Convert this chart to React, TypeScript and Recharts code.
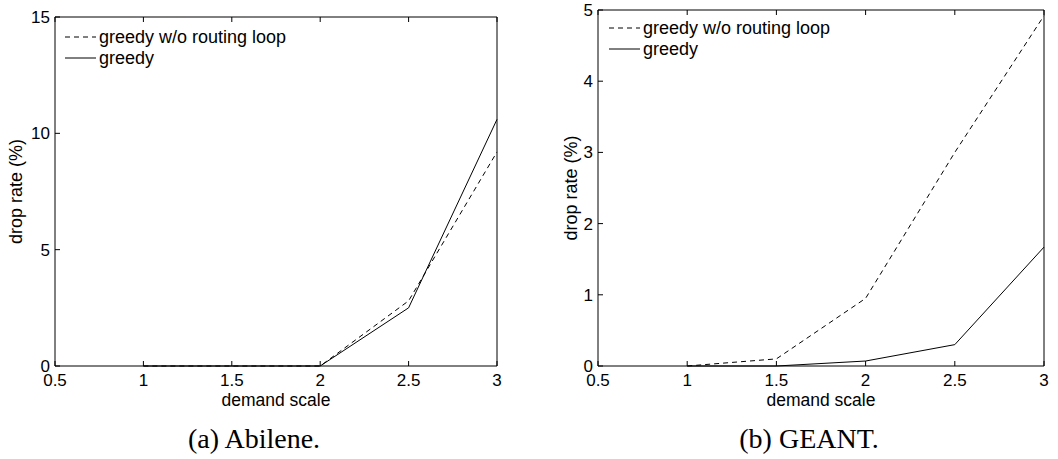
import { LineChart, Line, XAxis, YAxis, Legend } from "recharts";

// demand scale (x) for both panels
const DEMAND = [1, 1.5, 2, 2.5, 3];
const X_TICKS = [0.5, 1, 1.5, 2, 2.5, 3];

// (a) Abilene, drop rate in %
const ABILENE_NO_LOOP = [0, 0, 0, 2.8, 9.2];
const ABILENE_GREEDY = [0, 0, 0, 2.5, 10.6];
const ABILENE_Y_TICKS = [0, 5, 10, 15];

// (b) GEANT, drop rate in %
const GEANT_NO_LOOP = [0, 0.1, 0.95, 3.0, 4.92];
const GEANT_GREEDY = [0, 0, 0.07, 0.3, 1.67];
const GEANT_Y_TICKS = [0, 1, 2, 3, 4, 5];

const SERIES = [
  { key: "noLoop", name: "greedy w/o routing loop", dash: "5 4" },
  { key: "greedy", name: "greedy", dash: undefined },
];

const SANS = "'Liberation Sans', Arial, Helvetica, sans-serif";
const SERIF = "'Liberation Serif', 'Times New Roman', serif";
const TICK = 5;

const W = 529;
const H = 459;

function makeRows(noLoop: number[], greedy: number[]) {
  return DEMAND.map((x, i) => ({ x, noLoop: noLoop[i], greedy: greedy[i] }));
}

const BottomTick = (props: any) => {
  const { x, y, payload } = props;
  return (
    <g>
      <line x1={x} x2={x} y1={y} y2={y - TICK} stroke="#000" />
      <text x={x} y={y + 20} textAnchor="middle" fontSize={17} fontFamily={SANS} fill="#000">
        {payload.value}
      </text>
    </g>
  );
};

const TopTick = (props: any) => {
  const { x, y } = props;
  return <line x1={x} x2={x} y1={y} y2={y + TICK} stroke="#000" />;
};

const LeftTick = (props: any) => {
  const { x, y, payload } = props;
  return (
    <g>
      <line x1={x} x2={x + TICK} y1={y} y2={y} stroke="#000" />
      <text x={x - 5} y={y + 6} textAnchor="end" fontSize={17} fontFamily={SANS} fill="#000">
        {payload.value}
      </text>
    </g>
  );
};

const RightTick = (props: any) => {
  const { x, y } = props;
  return <line x1={x} x2={x - TICK} y1={y} y2={y} stroke="#000" />;
};

const LegendBox = () => (
  <svg width={300} height={50} style={{ display: "block", overflow: "visible" }}>
    {SERIES.map((s, i) => (
      <g key={s.key}>
        <line x1={0} x2={31} y1={8 + i * 21} y2={8 + i * 21} stroke="#000" strokeDasharray={s.dash} />
        <text x={34} y={14 + i * 21} fontSize={18} fontFamily={SANS} fill="#000">
          {s.name}
        </text>
      </g>
    ))}
  </svg>
);

interface PanelProps {
  left: number;
  rows: { x: number; noLoop: number; greedy: number }[];
  yMax: number;
  yTicks: number[];
  marginTop: number;
  marginRight: number;
  yAxisWidth: number;
  yLabelX: number;
  legendLeft: number;
  legendTop: number;
}

function Panel({
  left,
  rows,
  yMax,
  yTicks,
  marginTop,
  marginRight,
  yAxisWidth,
  yLabelX,
  legendLeft,
  legendTop,
}: PanelProps) {
  return (
    <div style={{ position: "absolute", left, top: 0 }}>
      <LineChart
        width={W}
        height={H}
        data={rows}
        margin={{ top: marginTop - 1, right: marginRight - 1, bottom: 92, left: 0 }}
      >
        <XAxis
          dataKey="x"
          type="number"
          domain={[0.5, 3]}
          ticks={X_TICKS}
          interval={0}
          height={1}
          tickSize={0}
          tickMargin={0}
          tickLine={false}
          tick={<BottomTick />}
          axisLine={{ stroke: "#000" }}
          label={{
            content: (p: any) => {
              const vb = p.viewBox;
              return (
                <text
                  x={vb.x + vb.width / 2}
                  y={vb.y + 40}
                  textAnchor="middle"
                  fontSize={17.5}
                  fontFamily={SANS}
                  fill="#000"
                >
                  demand scale
                </text>
              );
            },
          }}
        />
        <XAxis
          xAxisId="top"
          orientation="top"
          dataKey="x"
          type="number"
          domain={[0.5, 3]}
          ticks={X_TICKS}
          interval={0}
          height={1}
          tickSize={0}
          tickMargin={0}
          tickLine={false}
          tick={<TopTick />}
          axisLine={{ stroke: "#000" }}
        />
        <YAxis
          type="number"
          domain={[0, yMax]}
          ticks={yTicks}
          interval={0}
          width={yAxisWidth}
          tickSize={0}
          tickMargin={0}
          tickLine={false}
          tick={<LeftTick />}
          axisLine={{ stroke: "#000" }}
          label={{
            content: (p: any) => {
              const vb = p.viewBox;
              const cy = vb.y + vb.height / 2;
              return (
                <text
                  x={yLabelX}
                  y={cy}
                  transform={`rotate(-90 ${yLabelX} ${cy})`}
                  textAnchor="middle"
                  fontSize={18}
                  fontFamily={SANS}
                  fill="#000"
                >
                  drop rate (%)
                </text>
              );
            },
          }}
        />
        <YAxis
          yAxisId="right"
          orientation="right"
          type="number"
          domain={[0, yMax]}
          ticks={yTicks}
          interval={0}
          width={1}
          tickSize={0}
          tickMargin={0}
          tickLine={false}
          tick={<RightTick />}
          axisLine={{ stroke: "#000" }}
        />
        <Legend
          layout="vertical"
          align="center"
          verticalAlign="middle"
          content={() => <LegendBox />}
          wrapperStyle={{ position: "absolute", left: legendLeft, top: legendTop, width: 300, height: 50 }}
        />
        {SERIES.map((s) => (
          <Line
            key={s.key}
            dataKey={s.key}
            name={s.name}
            type="linear"
            stroke="#000"
            strokeWidth={1}
            strokeDasharray={s.dash}
            dot={false}
            activeDot={false}
            isAnimationActive={false}
          />
        ))}
      </LineChart>
    </div>
  );
}

export default function App() {
  return (
    <div
      style={{
        position: "absolute",
        left: 0,
        top: 0,
        width: 1058,
        height: 459,
        background: "#fff",
        overflow: "hidden",
      }}
    >
      <Panel
        left={0}
        rows={makeRows(ABILENE_NO_LOOP, ABILENE_GREEDY)}
        yMax={15}
        yTicks={ABILENE_Y_TICKS}
        marginTop={17}
        marginRight={32}
        yAxisWidth={55}
        yLabelX={22}
        legendLeft={65}
        legendTop={29}
      />
      <Panel
        left={529}
        rows={makeRows(GEANT_NO_LOOP, GEANT_GREEDY)}
        yMax={5}
        yTicks={GEANT_Y_TICKS}
        marginTop={10}
        marginRight={14}
        yAxisWidth={69}
        yLabelX={48}
        legendLeft={80}
        legendTop={20}
      />
      <svg width={1058} height={459} style={{ position: "absolute", left: 0, top: 0, pointerEvents: "none" }}>
        <text x={254} y={448} textAnchor="middle" fontSize={28} fontFamily={SERIF} fill="#000">
          (a) Abilene.
        </text>
        <text x={809} y={448} textAnchor="middle" fontSize={28} fontFamily={SERIF} fill="#000">
          (b) GEANT.
        </text>
      </svg>
    </div>
  );
}
